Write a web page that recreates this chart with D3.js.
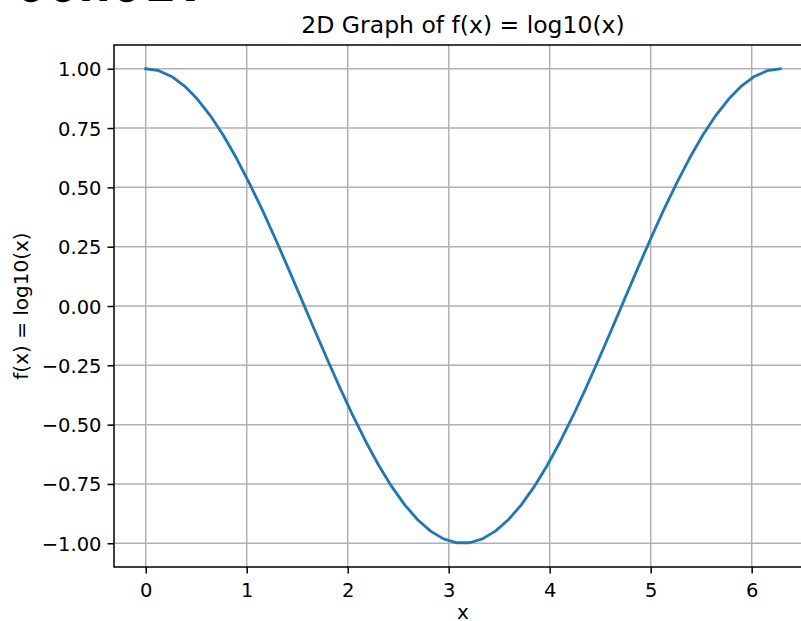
<!DOCTYPE html>
<html>
<head>
<meta charset="utf-8">
<script src="https://cdn.jsdelivr.net/npm/d3@7/dist/d3.min.js"></script>
<style>
  html, body { margin: 0; padding: 0; background: #fff; }
  svg { display: block; }
  text { font-family: "DejaVu Sans", sans-serif; fill: #000; }
</style>
</head>
<body>
<svg id="chart" width="801" height="621"></svg>
<script>
// ---- data ----
const xValues = [0.0000, 0.1282, 0.2565, 0.3847, 0.5129, 0.6411, 0.7694, 0.8976, 1.0258, 1.1541,
  1.2823, 1.4105, 1.5387, 1.6670, 1.7952, 1.9234, 2.0517, 2.1799, 2.3081, 2.4363,
  2.5646, 2.6928, 2.8210, 2.9493, 3.0775, 3.2057, 3.3339, 3.4622, 3.5904, 3.7186,
  3.8468, 3.9751, 4.1033, 4.2315, 4.3598, 4.4880, 4.6162, 4.7444, 4.8727, 5.0009,
  5.1291, 5.2574, 5.3856, 5.5138, 5.6420, 5.7703, 5.8985, 6.0267, 6.1550, 6.2832];
const yValues = [1.0000, 0.9918, 0.9673, 0.9269, 0.8713, 0.8014, 0.7183, 0.6235, 0.5183, 0.4048,
  0.2846, 0.1596, 0.0320, -0.0960, -0.2225, -0.3453, -0.4625, -0.5721, -0.6723, -0.7614,
  -0.8380, -0.9009, -0.9490, -0.9816, -0.9979, -0.9979, -0.9816, -0.9490, -0.9009, -0.8380,
  -0.7614, -0.6723, -0.5721, -0.4625, -0.3453, -0.2225, -0.0960, 0.0320, 0.1596, 0.2846,
  0.4048, 0.5183, 0.6235, 0.7183, 0.8014, 0.8713, 0.9269, 0.9673, 0.9918, 1.0000];
const xTicks = [0, 1, 2, 3, 4, 5, 6];
const yTicks = [1.00, 0.75, 0.50, 0.25, 0.00, -0.25, -0.50, -0.75, -1.00];
const titleText = "2D Graph of f(x) = log10(x)";
const xLabelText = "x";
const yLabelText = "f(x) = log10(x)";
const topCroppedText = "ooHoL.";

// ---- layout ----
const mLeft = 114, mTop = 45, mRight = 812, mBottom = 567;
const svg = d3.select("#chart");

const xSpan = xValues[xValues.length - 1] - xValues[0];
const x = d3.scaleLinear()
  .domain([xValues[0] - 0.05 * xSpan, xValues[xValues.length - 1] + 0.05 * xSpan])
  .range([mLeft, mRight]);
const y = d3.scaleLinear().domain([-1.1, 1.1]).range([mBottom, mTop]);

// cropped text at very top (only its lower edge shows)
svg.append("text")
  .attr("x", 15).attr("y", 0.5)
  .style("font-family", "'DejaVu Sans Mono', monospace")
  .style("font-weight", "bold")
  .style("font-size", "53px")
  .text(topCroppedText);

const fmt = d3.format(".2f");
const minus = s => s.replace("-", "\u2212");

// grid
const g = svg.append("g");
g.selectAll("line.gx").data(xTicks).enter().append("line")
  .attr("x1", d => x(d)).attr("x2", d => x(d))
  .attr("y1", mTop).attr("y2", mBottom)
  .attr("stroke", "#b0b0b0").attr("stroke-width", 1.5);
g.selectAll("line.gy").data(yTicks).enter().append("line")
  .attr("x1", mLeft).attr("x2", mRight)
  .attr("y1", d => y(d)).attr("y2", d => y(d))
  .attr("stroke", "#b0b0b0").attr("stroke-width", 1.5);

// line
const line = d3.line().x((d, i) => x(xValues[i])).y(d => y(d));
svg.append("path")
  .datum(yValues)
  .attr("d", line)
  .attr("fill", "none")
  .attr("stroke", "#1f77b4")
  .attr("stroke-width", 2.8)
  .attr("stroke-linejoin", "round")
  .attr("stroke-linecap", "square");

// spines
svg.append("rect")
  .attr("x", mLeft).attr("y", mTop)
  .attr("width", mRight - mLeft).attr("height", mBottom - mTop)
  .attr("fill", "none").attr("stroke", "#000").attr("stroke-width", 1.5);

// axes
const xAxis = d3.axisBottom(x).tickValues(xTicks).tickSize(6.5).tickPadding(6).tickFormat(d3.format("d"));
const yAxis = d3.axisLeft(y).tickValues(yTicks).tickSize(6.5).tickPadding(6).tickFormat(d => minus(fmt(d)));

const gx = svg.append("g").attr("transform", `translate(0,${mBottom})`).call(xAxis);
const gy = svg.append("g").attr("transform", `translate(${mLeft},0)`).call(yAxis);
[gx, gy].forEach(a => {
  a.select(".domain").remove();
  a.selectAll(".tick line").attr("stroke", "#000").attr("stroke-width", 1.5);
  a.selectAll(".tick text")
    .style("font-family", "'DejaVu Sans', sans-serif")
    .style("font-size", "19.5px")
    .attr("fill", "#000");
});
gx.selectAll(".tick text").attr("dy", null).attr("y", 30);
gy.selectAll(".tick text").attr("dy", "0.36em");

// title
svg.append("text")
  .attr("x", (mLeft + mRight) / 2).attr("y", 33)
  .attr("text-anchor", "middle")
  .style("font-size", "23.5px")
  .text(titleText);

// x label
svg.append("text")
  .attr("x", (mLeft + mRight) / 2).attr("y", 619)
  .attr("text-anchor", "middle")
  .style("font-size", "20px")
  .text(xLabelText);

// y label
svg.append("text")
  .attr("transform", `translate(28,${(mTop + mBottom) / 2}) rotate(-90)`)
  .attr("text-anchor", "middle")
  .style("font-size", "20px")
  .text(yLabelText);
</script>
</body>
</html>
